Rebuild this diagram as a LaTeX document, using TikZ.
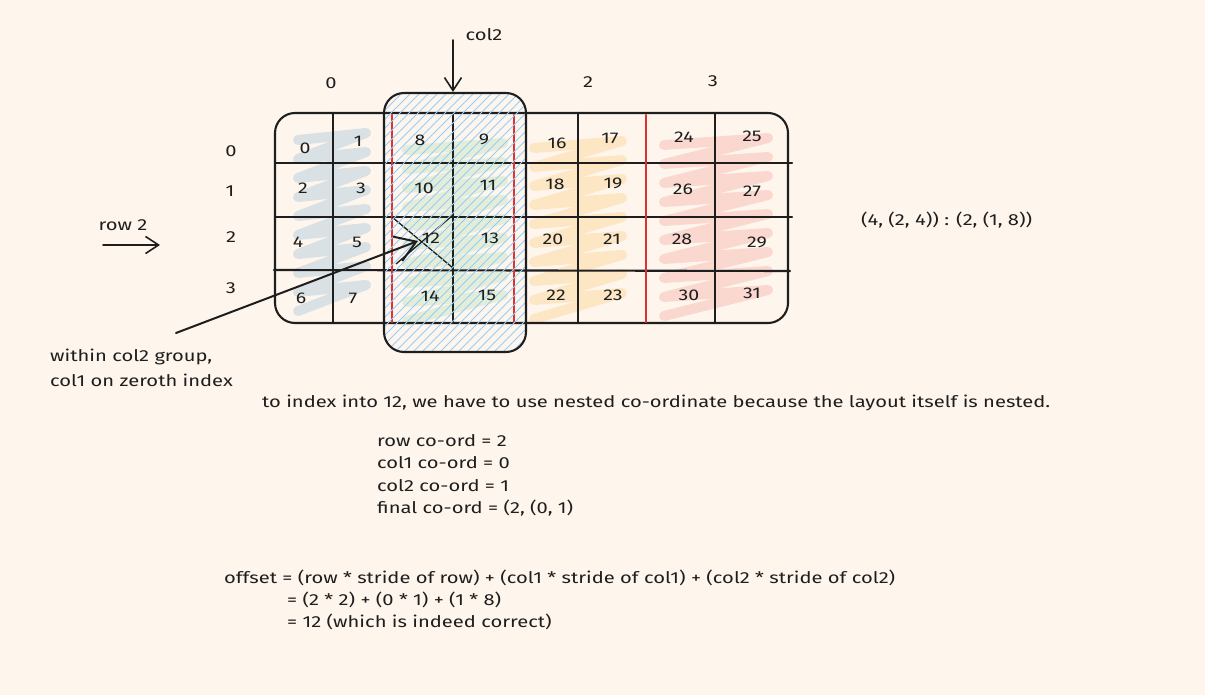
\documentclass[tikz,border=0pt]{standalone}
\usepackage{fontspec}
\setmainfont{Fira Sans}[FakeStretch=1.26]
\usetikzlibrary{arrows.meta}
\definecolor{bg}{RGB}{254,246,237}
\definecolor{ink}{RGB}{30,30,30}
\definecolor{redl}{RGB}{224,49,49}
\definecolor{hatchc}{RGB}{150,205,250}
\definecolor{sgray}{RGB}{218,225,228}
\definecolor{sgreen}{RGB}{228,237,216}
\definecolor{sorange}{RGB}{253,230,196}
\definecolor{spink}{RGB}{250,216,208}
\newcommand\myscribble[6]{%
  \draw[scrib,#1] (#2,#4) \foreach \i in {1,...,#5} { -- ({#3},{#4+\i*#6-26}) -- ({#2},{#4+\i*#6}) };}
\tikzset{
  grid/.style={draw=ink, line width=2.1pt, line cap=round},
  redline/.style={draw=redl, line width=2.2pt, line cap=round},
  hatch/.style={draw=hatchc, line width=0.9pt},
  scrib/.style={line width=10pt, line join=round, line cap=round},
  num/.style={font=\fontsize{15.5}{18}\selectfont, text=ink, inner sep=0pt},
  lbl/.style={font=\fontsize{16}{19}\selectfont, text=ink, inner sep=0pt},
  txt/.style={font=\fontsize{16}{19}\selectfont, text=ink, inner sep=0pt, anchor=west},
  arr/.style={draw=ink, line width=1.6pt, line cap=round,
    -{Straight Barb[length=13pt, width=17pt, line width=1.6pt]}},
  bigarr/.style={draw=ink, line width=2pt, line cap=round,
    -{Straight Barb[length=20pt, width=26pt, line width=2pt]}},
}
\begin{document}
\begin{tikzpicture}[x=1pt, y=-1pt]
\useasboundingbox (0,0) rectangle (1205,695);
\fill[bg] (0,0) rectangle (1205,695);

% scribble fills
\myscribble{sgray}{298}{366}{140}{9}{19}
\myscribble{sgreen}{407}{503}{150}{9}{19}
\myscribble{sorange}{534}{622}{148}{9}{19}
\myscribble{spink}{664}{768}{145}{9}{19}

% grid
\draw[grid, rounded corners=20pt] (275,113) rectangle (788,323);
\draw[grid] (275,163) -- (792,163);
\draw[grid] (275,217) -- (792,217);
\draw[grid] (274,270) -- (790,271);
\foreach \x in {333,453,578,715} \draw[grid] (\x,113) -- (\x,323);
\foreach \x in {392,514,646} \draw[redline] (\x,115) -- (\x,322);

% cross in cell 12
\draw[draw=ink, line width=1.3pt] (392,217) -- (453,268);
\draw[draw=ink, line width=1.3pt] (396,264) -- (453,215);

% hatched col2 group
\begin{scope}
\clip[rounded corners=20pt] (384,93) rectangle (526,352);
\foreach \k in {0,...,46} \draw[hatch] ({125+\k*9},352) -- ++(260,-260);
\end{scope}
\draw[grid, rounded corners=20pt] (384,93) rectangle (526,352);

% cell numbers
\node[num] (c0) at (305,148) {0};
\node[num] (c1) at (358,141) {1};
\node[num] (c8) at (420,140) {8};
\node[num] (c9) at (484,139) {9};
\node[num] (c16) at (557,143) {16};
\node[num] (c17) at (610,138) {17};
\node[num] (c24) at (684,137) {24};
\node[num] (c25) at (752,136) {25};
\node[num] (c2) at (303,188) {2};
\node[num] (c3) at (361,188) {3};
\node[num] (c10) at (424,188) {10};
\node[num] (c11) at (488,185) {11};
\node[num] (c18) at (555,184) {18};
\node[num] (c19) at (613,183) {19};
\node[num] (c26) at (683,189) {26};
\node[num] (c27) at (752,191) {27};
\node[num] (c4) at (298,242) {4};
\node[num] (c5) at (357,242) {5};
\node[num] (c12) at (431,238) {12};
\node[num] (c13) at (490,238) {13};
\node[num] (c20) at (553,239) {20};
\node[num] (c21) at (612,239) {21};
\node[num] (c28) at (682,239) {28};
\node[num] (c29) at (757,242) {29};
\node[num] (c6) at (301,298) {6};
\node[num] (c7) at (353,298) {7};
\node[num] (c14) at (430,296) {14};
\node[num] (c15) at (487,295) {15};
\node[num] (c22) at (556,295) {22};
\node[num] (c23) at (613,295) {23};
\node[num] (c30) at (689,295) {30};
\node[num] (c31) at (752,293) {31};

% axis labels
\node[lbl] (k0) at (331,83) {0};
\node[lbl] (k2) at (588,82) {2};
\node[lbl] (k3) at (713,81) {3};
\node[lbl] (r0) at (231,151) {0};
\node[lbl] (r1) at (230,191) {1};
\node[lbl] (r2) at (231,237) {2};
\node[lbl] (r3) at (231,288) {3};

% col2 arrow
\node[lbl] (col2) at (484,35) {col2};
\coordinate (col2s) at (453,40);
\coordinate (col2e) at (453,92);
\draw[arr] (col2s) -- (col2e);

% row 2 arrow
\node[lbl] (row2) at (123,225) {row 2};
\coordinate (row2s) at (103,245);
\coordinate (row2e) at (160,245);
\draw[arr] (row2s) -- (row2e);

% pointer arrow
\coordinate (ps) at (176,333);
\coordinate (pe) at (418,241);
\draw[bigarr] (ps) -- (pe);
\node[txt] (w1) at (50,357) {within col2 group,};
\node[txt] (w2) at (50,380) {col1 on zeroth index};

% right text
\node[txt] (lay) at (861,220) {(4, (2, 4)) : (2, (1, 8))};

% explanation
\node[txt] (e0) at (262,403) {to index into 12, we have to use nested co-ordinate because the layout itself is nested.};
\node[txt] (e1) at (377,441) {row co-ord = 2};
\node[txt] (e2) at (377,463) {col1 co-ord = 0};
\node[txt] (e3) at (377,486) {col2 co-ord = 1};
\node[txt] (e4) at (377,508) {final co-ord = (2, (0, 1)};
\node[txt] (o1) at (224,578) {offset = (row * stride of row) + (col1 * stride of col1) + (col2 * stride of col2)};
\node[txt] (o2) at (287,600) {= (2 * 2) + (0 * 1) + (1 * 8)};
\node[txt] (o3) at (287,622) {= 12 (which is indeed correct)};
\end{tikzpicture}
\end{document}
